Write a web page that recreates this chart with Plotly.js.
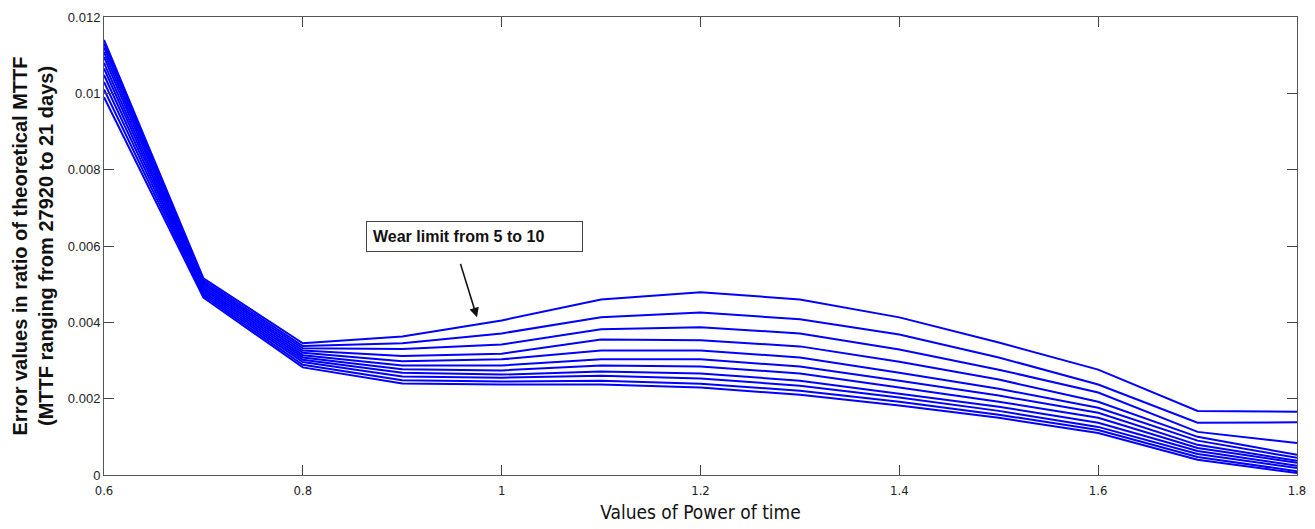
<!DOCTYPE html>
<html>
<head>
<meta charset="utf-8">
<script src="https://cdn.plot.ly/plotly-3.0.1.min.js"></script>
<style>html,body{margin:0;padding:0;background:#fff;}#chart{width:1315px;height:529px;}</style>
</head>
<body>
<div id="chart"></div>
<script>
// Values of power of time (x)
var powerOfTime = [0.6, 0.7, 0.8, 0.9, 1.0, 1.1, 1.2, 1.3, 1.4, 1.5, 1.6, 1.7, 1.8];

// Error values for each wear limit curve (11 curves, wear limit 5 to 10)
var curve1  = [0.01140, 0.00515, 0.00345, 0.00363, 0.00405, 0.00460, 0.00479, 0.00460, 0.00413, 0.00347, 0.00276, 0.00168, 0.00166];
var curve2  = [0.01130, 0.00510, 0.00338, 0.00345, 0.00371, 0.00413, 0.00426, 0.00408, 0.00368, 0.00308, 0.00237, 0.00137, 0.00138];
var curve3  = [0.01120, 0.00505, 0.00332, 0.00330, 0.00342, 0.00382, 0.00387, 0.00371, 0.00329, 0.00276, 0.00216, 0.00113, 0.00084];
var curve4  = [0.01108, 0.00500, 0.00326, 0.00312, 0.00318, 0.00355, 0.00353, 0.00337, 0.00297, 0.00250, 0.00192, 0.00100, 0.00053];
var curve5  = [0.01095, 0.00495, 0.00320, 0.00298, 0.00303, 0.00326, 0.00326, 0.00308, 0.00268, 0.00226, 0.00176, 0.00090, 0.00045];
var curve6  = [0.01080, 0.00490, 0.00314, 0.00287, 0.00287, 0.00303, 0.00303, 0.00284, 0.00247, 0.00208, 0.00163, 0.00079, 0.00037];
var curve7  = [0.01065, 0.00485, 0.00308, 0.00277, 0.00274, 0.00287, 0.00284, 0.00266, 0.00229, 0.00192, 0.00150, 0.00071, 0.00032];
var curve8  = [0.01048, 0.00480, 0.00302, 0.00268, 0.00263, 0.00271, 0.00266, 0.00247, 0.00213, 0.00179, 0.00137, 0.00063, 0.00024];
var curve9  = [0.01030, 0.00475, 0.00296, 0.00258, 0.00255, 0.00260, 0.00253, 0.00234, 0.00203, 0.00168, 0.00126, 0.00055, 0.00018];
var curve10 = [0.01010, 0.00470, 0.00289, 0.00248, 0.00245, 0.00247, 0.00239, 0.00221, 0.00192, 0.00158, 0.00118, 0.00047, 0.00010];
var curve11 = [0.00990, 0.00465, 0.00282, 0.00240, 0.00237, 0.00237, 0.00229, 0.00210, 0.00182, 0.00150, 0.00110, 0.00040, 0.00005];

var curves = [curve1, curve2, curve3, curve4, curve5, curve6, curve7, curve8, curve9, curve10, curve11];

var xTickVals = [0.6, 0.8, 1.0, 1.2, 1.4, 1.6, 1.8];
var xTickText = ['0.6', '0.8', '1', '1.2', '1.4', '1.6', '1.8'];
var yTickVals = [0, 0.002, 0.004, 0.006, 0.008, 0.01, 0.012];
var yTickText = ['0', '0.002', '0.004', '0.006', '0.008', '0.01', '0.012'];

var traces = curves.map(function (c) {
  return {
    x: powerOfTime,
    y: c,
    type: 'scatter',
    mode: 'lines',
    line: {color: '#0000ff', width: 2},
    showlegend: false,
    hoverinfo: 'skip'
  };
});

var layout = {
  width: 1315,
  height: 529,
  margin: {l: 104, r: 18, t: 17, b: 54},
  paper_bgcolor: '#ffffff',
  plot_bgcolor: '#ffffff',
  showlegend: false,
  xaxis: {
    range: [0.6, 1.8],
    tickvals: xTickVals,
    ticktext: xTickText,
    ticks: 'inside',
    ticklen: 10,
    tickcolor: '#444',
    showline: true,
    linecolor: '#555',
    linewidth: 1,
    mirror: 'ticks',
    showgrid: false,
    zeroline: false,
    ticklabelstandoff: 3,
    tickfont: {family: 'DejaVu Sans Condensed, Liberation Sans Narrow, Arial, sans-serif', size: 13, color: '#222'},
    title: {text: 'Values of Power of time', font: {family: 'DejaVu Sans Condensed, Liberation Sans Narrow, Arial, sans-serif', size: 19, color: '#111'}, standoff: 9}
  },
  yaxis: {
    range: [0, 0.012],
    tickvals: yTickVals,
    ticktext: yTickText,
    ticks: 'inside',
    ticklen: 10,
    tickcolor: '#444',
    showline: true,
    linecolor: '#555',
    linewidth: 1,
    mirror: 'ticks',
    showgrid: false,
    zeroline: false,
    tickfont: {family: 'Liberation Sans, Arial, sans-serif', size: 13, color: '#222'},
    title: {text: '<b>Error values in ratio of theoretical MTTF<br>(MTTF ranging from 27920 to 21 days)</b>', font: {family: 'Liberation Sans, Arial, sans-serif', size: 20, color: '#111'}, standoff: 8}
  },
  annotations: [
    {
      x: 0.9727, y: 0.00625, xref: 'x', yref: 'y',
      text: '<b>Wear limit from 5 to 10</b>',
      showarrow: false,
      font: {family: 'Liberation Sans, Arial, sans-serif', size: 16, color: '#111'},
      bordercolor: '#444', borderwidth: 1, borderpad: 6,
      bgcolor: '#ffffff',
      width: 203, align: 'left'
    },
    {
      x: 0.9752, y: 0.00413, xref: 'x', yref: 'y',
      text: '',
      showarrow: true,
      ax: -17, ay: -55,
      arrowhead: 2, arrowsize: 1.2, arrowwidth: 1.6, arrowcolor: '#111'
    }
  ]
};

Plotly.newPlot('chart', traces, layout, {displayModeBar: false, staticPlot: true});
</script>
</body>
</html>
